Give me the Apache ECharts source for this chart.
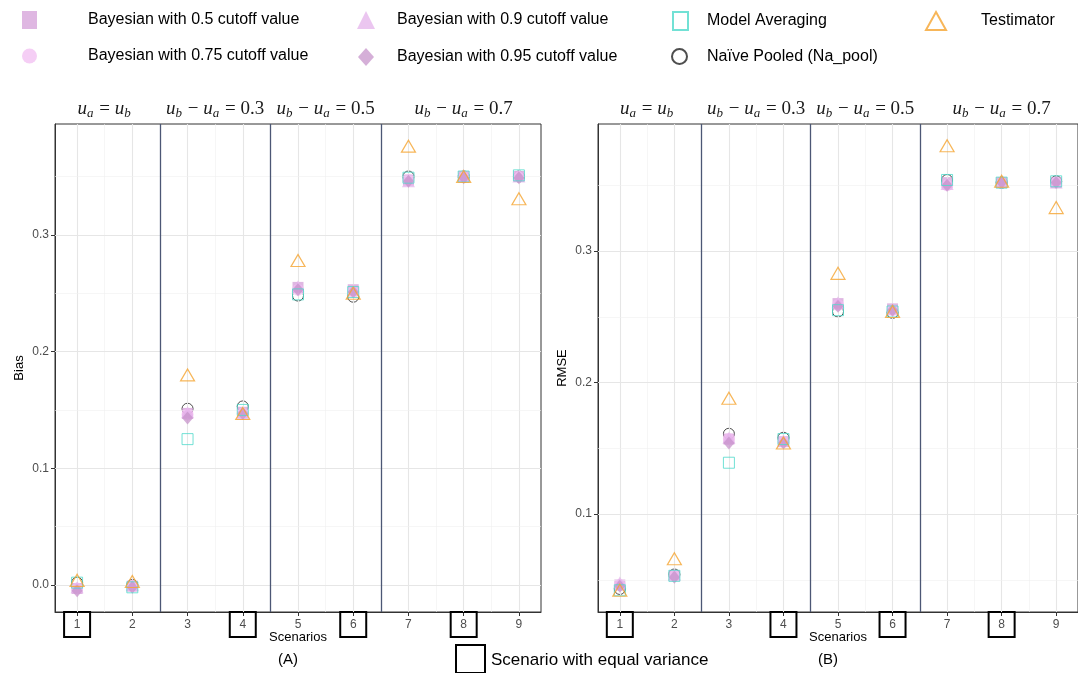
<!DOCTYPE html>
<html><head><meta charset="utf-8">
<script src="https://cdn.jsdelivr.net/npm/echarts@6/dist/echarts.min.js"></script>
<style>html,body{margin:0;padding:0;background:#fff}#c{width:1078px;height:673px}</style>
</head><body><div id="c"></div>
<script>
// ---------------- data ----------------
const scenarios = [1, 2, 3, 4, 5, 6, 7, 8, 9];
const equalVarianceScenarios = [1, 4, 6, 8];
const seriesNames = [
  'Bayesian with 0.5 cutoff value',
  'Bayesian with 0.75 cutoff value',
  'Bayesian with 0.9 cutoff value',
  'Bayesian with 0.95 cutoff value',
  'Model Averaging',
  'Naïve Pooled (Na_pool)',
  'Testimator'
];
// Bias (panel A)
const biasB05   = [-0.003, -0.001, 0.147, 0.148, 0.255, 0.253, 0.347, 0.350, 0.350];
const biasB075  = [-0.003, -0.001, 0.146, 0.147, 0.253, 0.251, 0.347, 0.350, 0.350];
const biasB09   = [-0.002,  0.000, 0.148, 0.147, 0.256, 0.253, 0.346, 0.351, 0.350];
const biasB095  = [-0.005, -0.002, 0.143, 0.147, 0.253, 0.251, 0.346, 0.349, 0.349];
const biasMA    = [ 0.002, -0.002, 0.125, 0.150, 0.249, 0.251, 0.349, 0.350, 0.351];
const biasNaive = [ 0.002,  0.000, 0.151, 0.153, 0.248, 0.247, 0.350, 0.350, 0.350];
const biasTest  = [ 0.004,  0.003, 0.180, 0.147, 0.278, 0.250, 0.376, 0.350, 0.331];
// RMSE (panel B)
const rmseB05   = [0.046, 0.053, 0.157, 0.155, 0.260, 0.256, 0.352, 0.352, 0.352];
const rmseB075  = [0.046, 0.053, 0.157, 0.155, 0.259, 0.255, 0.350, 0.352, 0.352];
const rmseB09   = [0.048, 0.054, 0.158, 0.156, 0.261, 0.256, 0.351, 0.353, 0.352];
const rmseB095  = [0.045, 0.052, 0.154, 0.154, 0.258, 0.255, 0.350, 0.352, 0.352];
const rmseMA    = [0.042, 0.053, 0.139, 0.157, 0.255, 0.254, 0.354, 0.352, 0.353];
const rmseNaive = [0.043, 0.054, 0.161, 0.158, 0.254, 0.253, 0.354, 0.352, 0.353];
const rmseTest  = [0.042, 0.066, 0.188, 0.154, 0.283, 0.254, 0.380, 0.353, 0.333];
// ticks
const biasTicks = [0.0, 0.1, 0.2, 0.3];
const biasMinorTicks = [0.05, 0.15, 0.25, 0.35];
const rmseTicks = [0.1, 0.2, 0.3];
const rmseMinorTicks = [0.05, 0.15, 0.25, 0.35];
const xMinorTicks = [1.5, 2.5, 3.5, 4.5, 5.5, 6.5, 7.5, 8.5];
const facetBreaks = [2.5, 4.5, 6.5];
const facetGroups = [[1, 2], [3, 4], [5, 6], [7, 9]];
const facetLabels = [
  '{i|u}{s|a}{n| = }{i|u}{s|b}',
  '{i|u}{s|b}{n| − }{i|u}{s|a}{n| = 0.3}',
  '{i|u}{s|b}{n| − }{i|u}{s|a}{n| = 0.5}',
  '{i|u}{s|b}{n| − }{i|u}{s|a}{n| = 0.7}'
];
const panelLabels = ['(A)', '(B)'];
const yTitles = ['Bias', 'RMSE'];
const bottomLegendText = 'Scenario with equal variance';

// ---------------- styles ----------------
const FONT = 'Liberation Sans, Arial, sans-serif';
const markStyles = [
  {symbol: 'rect',     size: [11, 11], itemStyle: {color: 'rgba(211,158,216,0.92)'}, z: 4},
  {symbol: 'circle',   size: [12, 12], itemStyle: {color: 'rgba(242,188,242,0.92)'}, z: 5},
  {symbol: 'triangle', size: [13, 12], itemStyle: {color: 'rgba(228,178,234,0.92)'}, z: 6},
  {symbol: 'diamond',  size: [11, 13], itemStyle: {color: 'rgba(198,146,202,0.92)'}, z: 7},
  {symbol: 'rect',     size: [11, 11], itemStyle: {color: 'rgba(0,0,0,0)', borderColor: '#4FD9CB', borderWidth: 1}, z: 8},
  {symbol: 'circle',   size: [11, 11], itemStyle: {color: 'rgba(0,0,0,0)', borderColor: '#222', borderWidth: 1}, z: 3},
  {symbol: 'triangle', size: [14, 12], itemStyle: {color: 'rgba(0,0,0,0)', borderColor: '#F5A430', borderWidth: 1.2}, z: 9}
];
const panelData = [
  [biasB05, biasB075, biasB09, biasB095, biasMA, biasNaive, biasTest],
  [rmseB05, rmseB075, rmseB09, rmseB095, rmseMA, rmseNaive, rmseTest]
];
const grids = [
  {left: 55, top: 124, width: 486, height: 488},
  {left: 598, top: 124, width: 486, height: 488}
];
const yRanges = [[-0.02314, 0.3950], [0.02548, 0.39658]];
const majorY = [biasTicks, rmseTicks];
const minorY = [biasMinorTicks, rmseMinorTicks];

const series = [];
const xAxes = [], yAxes = [];
for (let g = 0; g < 2; g++) {
  xAxes.push({
    type: 'value', gridIndex: g, min: 0.6, max: 9.4,
    axisLine: {show: true, onZero: false, lineStyle: {color: '#333', width: 1}},
    splitLine: {show: false},
    axisTick: {show: true, customValues: scenarios, length: 4, lineStyle: {color: '#333'}},
    axisLabel: {
      customValues: scenarios, margin: 0,
      formatter: v => equalVarianceScenarios.indexOf(v) >= 0 ? '{box|' + v + '}' : '{plain|' + v + '}',
      rich: {
        box: {width: 26, height: 25, lineHeight: 25, align: 'center', borderColor: '#000', borderWidth: 2,
              color: '#4d4d4d', fontSize: 12, fontFamily: FONT},
        plain: {width: 26, height: 25, lineHeight: 25, align: 'center', color: '#4d4d4d', fontSize: 12, fontFamily: FONT}
      }
    },
    name: 'Scenarios', nameLocation: 'middle', nameGap: 19, nameMoveOverlap: false,
    nameTextStyle: {fontSize: 13, color: '#000', fontFamily: FONT}
  });
  yAxes.push({
    type: 'value', gridIndex: g, min: yRanges[g][0], max: yRanges[g][1],
    axisLine: {show: true, onZero: false, lineStyle: {color: '#333', width: 1}},
    splitLine: {show: false},
    axisTick: {show: true, customValues: majorY[g], length: 4, lineStyle: {color: '#333'}},
    axisLabel: {customValues: majorY[g], formatter: v => v.toFixed(1), color: '#4d4d4d', fontSize: 12, fontFamily: FONT, margin: 6},
    name: yTitles[g], nameLocation: 'middle', nameGap: 29, nameMoveOverlap: false,
    nameTextStyle: {fontSize: 13, color: '#000', fontFamily: FONT}
  });
  // grid lines + facet separators
  const gl = [];
  scenarios.forEach(v => gl.push({xAxis: v, lineStyle: {color: '#e6e6e6', width: 1.1, type: 'solid'}}));
  xMinorTicks.forEach(v => gl.push({xAxis: v, lineStyle: {color: '#f0f0f0', width: 0.6, type: 'solid'}}));
  majorY[g].forEach(v => gl.push({yAxis: v, lineStyle: {color: '#e6e6e6', width: 1.1, type: 'solid'}}));
  minorY[g].forEach(v => gl.push({yAxis: v, lineStyle: {color: '#f0f0f0', width: 0.6, type: 'solid'}}));
  series.push({
    type: 'scatter', name: '_grid' + g, xAxisIndex: g, yAxisIndex: g, data: [], z: 1, silent: true,
    markLine: {silent: true, symbol: ['none', 'none'], label: {show: false}, animation: false, data: gl}
  });
  series.push({
    type: 'scatter', name: '_facet' + g, xAxisIndex: g, yAxisIndex: g, data: [], z: 2, silent: true,
    markLine: {silent: true, symbol: ['none', 'none'], label: {show: false}, animation: false,
      data: facetBreaks.map(v => ({xAxis: v, lineStyle: {color: '#4c5775', width: 1.3, type: 'solid'}}))}
  });
  seriesNames.forEach((name, k) => {
    const st = markStyles[k];
    series.push({
      type: 'scatter', name: name, xAxisIndex: g, yAxisIndex: g,
      symbol: st.symbol, symbolSize: st.size, itemStyle: st.itemStyle, z: st.z,
      data: scenarios.map((s, i) => [s, panelData[g][k][i]])
    });
  });
}

// legends (ggplot-style 2-row by column layout)
const legendPos = [
  {left: 17, top: 6, w: 15, h: 18, pad: 46},
  {left: 17, top: 43, w: 15, h: 18, pad: 46},
  {left: 352, top: 6, w: 18, h: 18, pad: 17},
  {left: 353, top: 43, w: 16, h: 18, pad: 18},
  {left: 667, top: 6, w: 15, h: 18, pad: 14},
  {left: 666, top: 43, w: 15, h: 18, pad: 15},
  {left: 920, top: 6, w: 20, h: 18, pad: 30}
];
const legends = seriesNames.map((name, k) => ({
  data: [name], left: legendPos[k].left, top: legendPos[k].top,
  itemWidth: legendPos[k].w, itemHeight: legendPos[k].h, selectedMode: false,
  textStyle: {fontSize: 16, color: '#000', fontFamily: FONT, padding: [0, 0, 0, legendPos[k].pad]}
}));

const chart = echarts.init(document.getElementById('c'));
chart.setOption({
  animation: false,
  backgroundColor: '#fff',
  grid: grids.map(g => Object.assign({show: true, borderColor: '#333', borderWidth: 1, backgroundColor: 'rgba(0,0,0,0)'}, g)),
  xAxis: xAxes, yAxis: yAxes, legend: legends, series: series
});

// facet strip labels and panel labels placed through the axes' scales
const graphics = [];
const rich = {
  i: {fontFamily: 'Liberation Serif, serif', fontStyle: 'italic', fontSize: 19, lineHeight: 24, height: 24},
  s: {fontFamily: 'Liberation Serif, serif', fontStyle: 'italic', fontSize: 13, lineHeight: 14, height: 14, padding: [10, 1, 0, 0]},
  n: {fontFamily: 'Liberation Serif, serif', fontSize: 19, lineHeight: 24, height: 24}
};
for (let g = 0; g < 2; g++) {
  facetGroups.forEach((grp, j) => {
    const cx = chart.convertToPixel({xAxisIndex: g}, (grp[0] + grp[1]) / 2);
    graphics.push({type: 'text', x: cx, y: 109, style: {text: facetLabels[j], rich: rich, fill: '#1a1a1a',
      align: 'center', verticalAlign: 'middle'}});
  });
  const mid = chart.convertToPixel({xAxisIndex: g}, 5);
  graphics.push({type: 'text', x: mid - 10, y: 660, style: {text: panelLabels[g], font: '15px ' + FONT, fill: '#000',
    align: 'center', verticalAlign: 'middle'}});
}
graphics.push({type: 'rect', shape: {x: 456, y: 645, width: 29, height: 28}, style: {fill: 'none', stroke: '#000', lineWidth: 2}});
graphics.push({type: 'text', x: 491, y: 660, style: {text: bottomLegendText, font: '17px ' + FONT, fill: '#000',
  align: 'left', verticalAlign: 'middle'}});
chart.setOption({graphic: graphics});
</script>
</body></html>
